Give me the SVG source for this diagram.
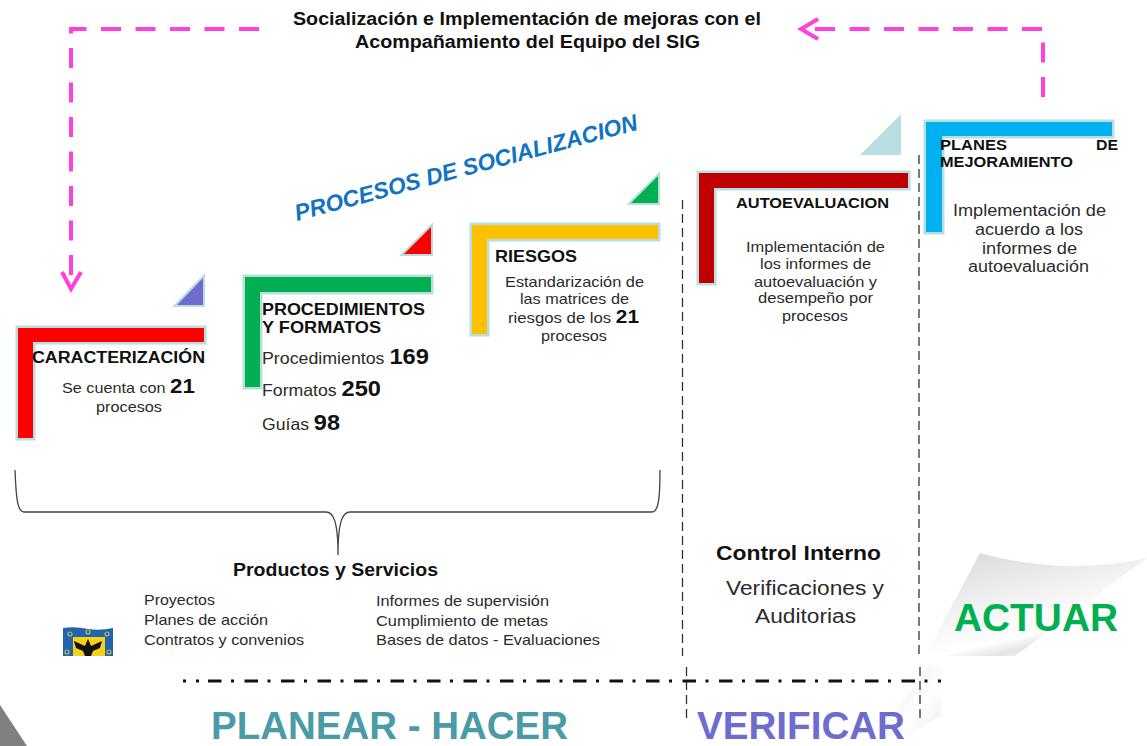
<svg xmlns="http://www.w3.org/2000/svg" width="1147" height="746" viewBox="0 0 1147 746">
<style>
text{font-family:"Liberation Sans",Arial,sans-serif;fill:#2b2b2b;font-size:14.5px;lengthAdjust:spacingAndGlyphs}
.b{font-weight:bold;fill:#111}
.corner{stroke:#b7dee0;stroke-width:5;stroke-linejoin:miter;paint-order:stroke}
.tri{stroke:#b7dee0;stroke-width:4;stroke-linejoin:miter;paint-order:stroke}
.pk{fill:none;stroke:#ff3fe0;stroke-width:4;stroke-dasharray:20 14.5}
.ah{fill:none;stroke:#ff3fe0;stroke-width:4}
.gd{fill:none;stroke:#333;stroke-width:1.3;stroke-dasharray:9 5}
.n{font-size:20px;font-weight:bold;fill:#111}
</style>
<defs>
<linearGradient id="fold" x1="0.1" y1="0" x2="0.6" y2="1">
<stop offset="0" stop-color="#d9d9d9"/><stop offset="0.55" stop-color="#f6f6f6"/><stop offset="0.78" stop-color="#ffffff"/><stop offset="0.88" stop-color="#e4e4e4"/><stop offset="1" stop-color="#ffffff"/>
</linearGradient>
<linearGradient id="fold2" x1="0" y1="0" x2="1" y2="1">
<stop offset="0" stop-color="#e6e6e6"/><stop offset="0.6" stop-color="#ffffff"/><stop offset="1" stop-color="#e8e8e8"/>
</linearGradient>
</defs>
<rect width="1147" height="746" fill="#fff"/>

<g id="page-fold">
<path d="M925 656 L980 553 Q1010 562 1060 566 Q1110 567 1147 558 L1015 656 Z" fill="url(#fold)"/>
<path d="M927 667 H941 V716 L900 738 L872 746 Z" fill="url(#fold2)"/>
<path d="M0 705 L27 746 L0 746 Z" fill="#808080"/>
</g>

<g id="connectors">
<path class="pk" d="M259 29 H71 V286"/>
<path class="ah" d="M62 272 L71 289 L81 272"/>
<path class="pk" d="M1043 97 V29 H806"/>
<path class="ah" d="M818 19 L801 29 L818 39"/>
<path d="M15 470 C16 495 17 512 24 512 H326 C333 512 338 520 338 555 C338 520 343 512 350 512 H652 C659 512 660 495 660 470" fill="none" stroke="#444" stroke-width="1.3"/>
<path class="gd" d="M682.5 200 V656"/>
<path class="gd" d="M686.5 667 V722"/>
<path class="gd" d="M919 155 V656"/>
<path class="gd" d="M920 667 V723"/>
<path d="M183 681 H186 M196 681 H199" fill="none" stroke="#111" stroke-width="3"/>
<path d="M208 681 H941" fill="none" stroke="#111" stroke-width="3" stroke-dasharray="13.5 9.5 3 10.5"/>
</g>

<g id="top-title">
<text class="b" x="293" y="25" font-size="17" style="font-size:17.5px" textLength="468" lengthAdjust="spacingAndGlyphs">Socialización e Implementación de mejoras con el</text>
<text class="b" x="355" y="48" style="font-size:17.5px" textLength="345" lengthAdjust="spacingAndGlyphs">Acompañamiento del Equipo del SIG</text>
</g>
<text id="procesos" x="297" y="221" style="font-size:23px;font-style:italic;font-weight:bold;fill:#1273c4" textLength="354" lengthAdjust="spacingAndGlyphs" transform="rotate(-15 297 221)">PROCESOS DE SOCIALIZACION</text>

<g id="caracterizacion">
<path class="tri" d="M177 305 L203 278 V305 Z" fill="#6e6ccd"/>
<path class="corner" d="M18 328 H204 V342 H33 V438 H18 Z" fill="#ff0000"/>
<text class="b" x="32" y="363" style="font-size:16px" textLength="173" lengthAdjust="spacingAndGlyphs">CARACTERIZACIÓN</text>
<text x="62" y="393" textLength="133" lengthAdjust="spacingAndGlyphs">Se cuenta con <tspan class="n">21</tspan></text>
<text x="96" y="412" textLength="66" lengthAdjust="spacingAndGlyphs">procesos</text>
</g>

<g id="procedimientos">
<path class="tri" d="M404 254 L431 227 V254 Z" fill="#ff0000"/>
<path class="corner" d="M245 277 H431 V292 H260 V387 H245 Z" fill="#00b050"/>
<text class="b" x="262" y="315" style="font-size:16.5px" textLength="163" lengthAdjust="spacingAndGlyphs">PROCEDIMIENTOS</text>
<text class="b" x="262" y="333" style="font-size:16.5px" textLength="119" lengthAdjust="spacingAndGlyphs">Y FORMATOS</text>
<text x="262" y="364" style="font-size:16.5px" textLength="167" lengthAdjust="spacingAndGlyphs">Procedimientos <tspan class="n" style="font-size:22px">169</tspan></text>
<text x="262" y="396" style="font-size:16.5px" textLength="119" lengthAdjust="spacingAndGlyphs">Formatos <tspan class="n" style="font-size:22px">250</tspan></text>
<text x="262" y="430" style="font-size:16.5px" textLength="78" lengthAdjust="spacingAndGlyphs">Guías <tspan class="n" style="font-size:22px">98</tspan></text>
</g>

<g id="riesgos">
<path class="tri" d="M631 203 L658 176 V203 Z" fill="#00b050"/>
<path class="corner" d="M472 225 H658 V239 H487 V334 H472 Z" fill="#ffc000"/>
<text class="b" x="495" y="262" style="font-size:16.5px" textLength="82" lengthAdjust="spacingAndGlyphs">RIESGOS</text>
<text x="505" y="287" textLength="139" lengthAdjust="spacingAndGlyphs">Estandarización de</text>
<text x="520" y="304" textLength="109" lengthAdjust="spacingAndGlyphs">las matrices de</text>
<text x="508" y="323" textLength="131" lengthAdjust="spacingAndGlyphs">riesgos de los  <tspan class="n" style="font-size:18px">21</tspan></text>
<text x="541" y="341" textLength="66" lengthAdjust="spacingAndGlyphs">procesos</text>
</g>

<g id="autoevaluacion">
<path class="tri" d="M865 153 L899 119 V153 Z" fill="#b7dee0"/>
<path class="corner" d="M699 173 H908 V188 H714 V283 H699 Z" fill="#c00000"/>
<text class="b" x="736" y="208" textLength="153" lengthAdjust="spacingAndGlyphs">AUTOEVALUACION</text>
<text x="746" y="252" textLength="139" lengthAdjust="spacingAndGlyphs">Implementación de</text>
<text x="760" y="269" textLength="111" lengthAdjust="spacingAndGlyphs">los informes de</text>
<text x="754" y="287" textLength="123" lengthAdjust="spacingAndGlyphs">autoevaluación y</text>
<text x="758" y="303" textLength="115" lengthAdjust="spacingAndGlyphs">desempeño por</text>
<text x="782" y="321" textLength="66" lengthAdjust="spacingAndGlyphs">procesos</text>
</g>

<g id="planes">
<path class="corner" d="M926 122 H1112 V136 H942 V232 H926 Z" fill="#00b0f0"/>
<text class="b" x="940" y="150" textLength="67" lengthAdjust="spacingAndGlyphs">PLANES</text>
<text class="b" x="1096" y="150" textLength="22" lengthAdjust="spacingAndGlyphs">DE</text>
<text class="b" x="940" y="167" textLength="133" lengthAdjust="spacingAndGlyphs">MEJORAMIENTO</text>
<text x="953" y="216" style="font-size:16px" textLength="153" lengthAdjust="spacingAndGlyphs">Implementación de</text>
<text x="975" y="235" style="font-size:16px" textLength="108" lengthAdjust="spacingAndGlyphs">acuerdo a los</text>
<text x="982" y="254" style="font-size:16px" textLength="95" lengthAdjust="spacingAndGlyphs">informes de</text>
<text x="968" y="272" style="font-size:16px" textLength="121" lengthAdjust="spacingAndGlyphs">autoevaluación</text>
</g>

<g id="productos">
<text class="b" x="233" y="576" style="font-size:18px" textLength="205" lengthAdjust="spacingAndGlyphs">Productos y Servicios</text>
<text x="144" y="605" textLength="71" lengthAdjust="spacingAndGlyphs">Proyectos</text>
<text x="144" y="625" textLength="124" lengthAdjust="spacingAndGlyphs">Planes de acción</text>
<text x="144" y="645" textLength="160" lengthAdjust="spacingAndGlyphs">Contratos y convenios</text>
<text x="376" y="606" textLength="173" lengthAdjust="spacingAndGlyphs">Informes de supervisión</text>
<text x="376" y="626" textLength="172" lengthAdjust="spacingAndGlyphs">Cumplimiento de metas</text>
<text x="376" y="645" textLength="224" lengthAdjust="spacingAndGlyphs">Bases de datos - Evaluaciones</text>
</g>

<g id="escudo">
<path d="M63 628 Q75 626 88 629 Q100 631 113 628 V656 H63 Z" fill="#1f64b0"/>
<rect x="73" y="637" width="32" height="19" fill="#f7d117"/>
<path d="M88 639 L91 646 L102 641 L100 648 L93 651 L91 656 H85 L83 651 L76 648 L74 641 L85 646 Z" fill="#111"/>
<g fill="none" stroke="#c9b93c" stroke-width="1.2"><circle cx="70" cy="634" r="2"/><circle cx="88" cy="632" r="2"/><circle cx="107" cy="634" r="2"/><circle cx="67" cy="652" r="2"/><circle cx="109" cy="652" r="2"/></g>
</g>

<g id="control">
<text class="b" x="716" y="560" style="font-size:20px" textLength="165" lengthAdjust="spacingAndGlyphs">Control Interno</text>
<text x="726" y="595" style="font-size:20px" textLength="158" lengthAdjust="spacingAndGlyphs">Verificaciones y</text>
<text x="755" y="623" style="font-size:20px" textLength="101" lengthAdjust="spacingAndGlyphs">Auditorias</text>
</g>

<text class="b" id="actuar" x="954" y="631" style="font-size:39px;fill:#00b050" textLength="164" lengthAdjust="spacingAndGlyphs">ACTUAR</text>
<text class="b" id="planear" x="211" y="739" style="font-size:38px;fill:#4a9ba5" textLength="357" lengthAdjust="spacingAndGlyphs">PLANEAR - HACER</text>
<text class="b" id="verificar" x="697" y="739" style="font-size:38px;fill:#6e6ccd" textLength="208" lengthAdjust="spacingAndGlyphs">VERIFICAR</text>
</svg>
